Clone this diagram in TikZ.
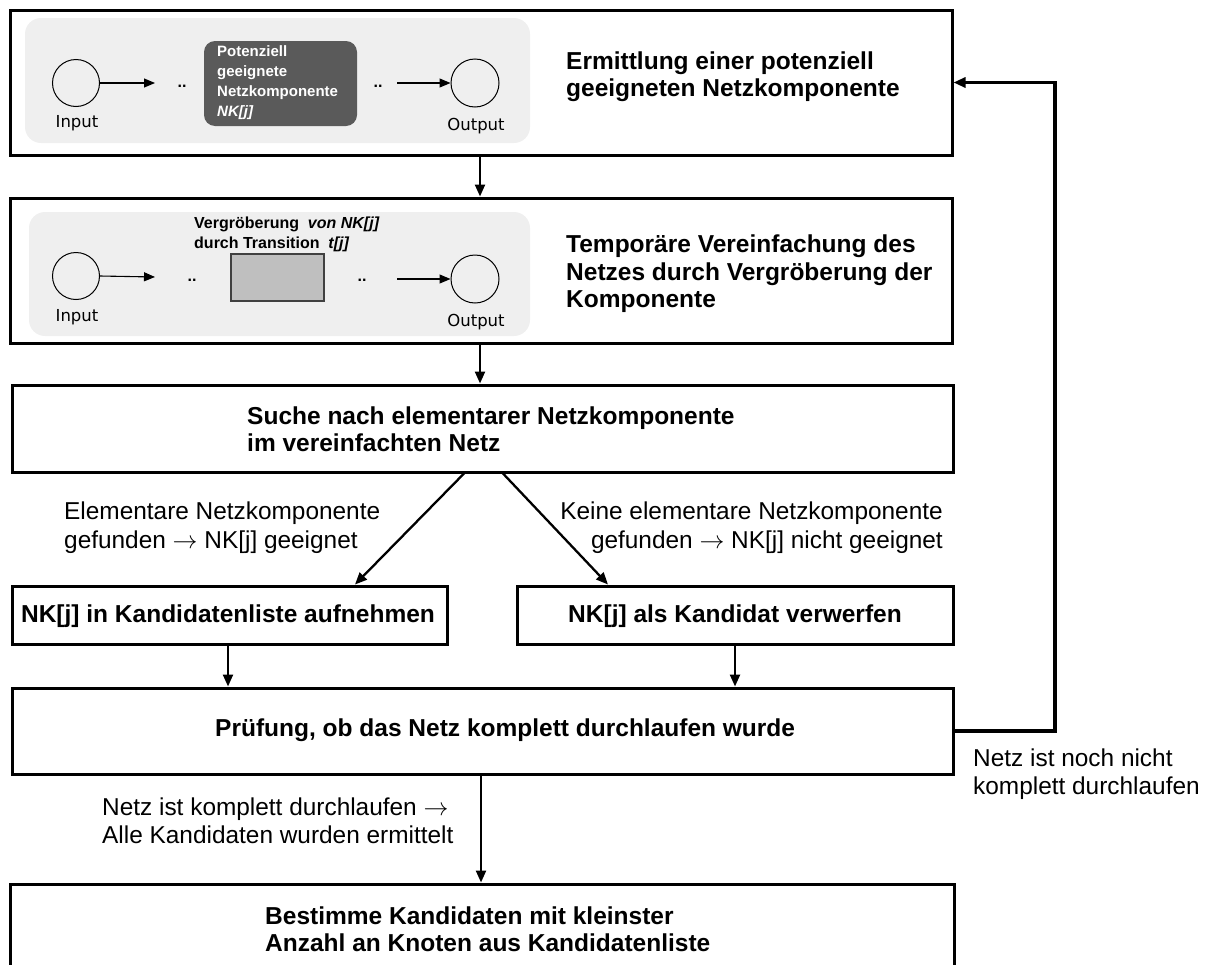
\documentclass[tikz,border=0pt]{standalone}
\usepackage{fontspec}
\setmainfont{Liberation Sans}
\newfontfamily\djv{DejaVu Sans}
\usetikzlibrary{arrows.meta}
\definecolor{panelgray}{HTML}{EFEFEF}
\definecolor{darkbox}{HTML}{5A5A5A}
\definecolor{transgray}{HTML}{BFBFBF}
\begin{document}
\begin{tikzpicture}[x=1pt,y=-1pt,
  stepbox/.style={draw=black,line width=3pt,inner sep=0pt},
  bigtxt/.style={inner sep=0pt,align=left,font=\fontsize{24.5}{27.5}\selectfont\bfseries},
  lbltxt/.style={inner sep=0pt,font=\fontsize{24.4}{28.5}\selectfont},
  arr/.style={line width=2.3pt,-{Triangle[length=12pt,width=10pt]}},
  fbarr/.style={line width=3.5pt,-{Triangle[length=12pt,width=10pt]}},
  sarr/.style={line width=1.1pt,-{Triangle[length=11pt,width=9pt]}},
  panel/.style={fill=panelgray,rounded corners=16pt},
  place/.style={circle,draw=black,line width=1pt,minimum size=47pt,inner sep=0pt},
  iolbl/.style={inner sep=0pt,font=\djv\fontsize{16.5}{19}\selectfont},
  dots/.style={inner sep=0pt,anchor=base,font=\fontsize{16}{19}\selectfont\bfseries},
]
\useasboundingbox (0,0) rectangle (1207,964);

% ---------- step 1: choose a candidate component ----------
\node[stepbox,minimum width=942pt,minimum height=145pt] (b1) at (481,82.5) {};
\fill[panel] (25,18) rectangle (530,143);
\node[place] (in1) at (76,83) {};
\node[place,minimum size=48pt] (out1) at (475,83) {};
\node[iolbl] (in1l) at (77,123) {Input};
\node[iolbl] (out1l) at (476,126) {Output};
\coordinate (a1e) at (155,83);
\coordinate (a1s) at (397,83);
\draw[sarr] (in1.east) -- (a1e);
\draw[sarr] (a1s) -- (out1.west);
\node[dots] (d11) at (182,87) {..};
\node[dots] (d12) at (378,87) {..};
\node[fill=darkbox,rounded corners=11pt,minimum width=153pt,minimum height=85pt,inner sep=0pt] (nk) at (280.5,83.5) {};
\node[inner sep=0pt,anchor=west,align=left,text=white,font=\fontsize{15}{20}\selectfont\bfseries] (nkt) at (217,83)
  {Potenziell\\geeignete\\Netzkomponente\\\textit{NK[j]}};
\node[bigtxt,anchor=west] (t1) at (566,76.5) {Ermittlung einer potenziell\\geeigneten Netzkomponente};

% ---------- step 2: coarsen the component ----------
\node[stepbox,minimum width=942pt,minimum height=145pt] (b2) at (481,270.5) {};
\fill[panel] (29,212) rectangle (530,336);
\node[place] (in2) at (76,276) {};
\node[place,minimum size=48pt] (out2) at (475,279) {};
\node[iolbl] (in2l) at (77,317) {Input};
\node[iolbl] (out2l) at (476,322) {Output};
\coordinate (a2e) at (155,277);
\coordinate (a2s) at (397,279);
\draw[sarr] (in2.east) -- (a2e);
\draw[sarr] (a2s) -- (out2.west);
\node[dots] (d21) at (192,281) {..};
\node[dots] (d22) at (362,281) {..};
\node[fill=transgray,draw=black!75,line width=1.2pt,minimum width=93pt,minimum height=47pt,inner sep=0pt] (tj) at (277.5,277.5) {};
\node[inner sep=0pt,anchor=west,align=left,font=\fontsize{16}{20}\selectfont\bfseries] (tjt) at (194,234)
  {Vergröberung \ \textit{von NK[j]}\\durch Transition \ \textit{t[j]}};
\node[bigtxt,anchor=west] (t2) at (566,274) {Temporäre Vereinfachung des\\Netzes durch Vergröberung der\\Komponente};

% ---------- step 3: search in the simplified net ----------
\node[stepbox,minimum width=941pt,minimum height=87pt] (b3) at (482.5,428.5) {};
\node[bigtxt,anchor=west] (t3) at (247,429) {Suche nach elementarer Netzkomponente\\im vereinfachten Netz};

% ---------- decision outcomes ----------
\node[stepbox,minimum width=435pt,minimum height=58pt] (b4) at (229.5,615) {};
\node[bigtxt] (t4) at (228,616) {NK[j] in Kandidatenliste aufnehmen};
\node[stepbox,minimum width=436pt,minimum height=58pt] (b5) at (735,615) {};
\node[bigtxt] (t5) at (735,616) {NK[j] als Kandidat verwerfen};

\node[lbltxt,anchor=west,align=left] (l4) at (64,527.5) {Elementare Netzkomponente\\gefunden $\rightarrow$ NK[j] geeignet};
\node[lbltxt,anchor=east,align=right] (l5) at (943,527.5) {Keine elementare Netzkomponente\\gefunden $\rightarrow$ NK[j] nicht geeignet};

% ---------- completeness check ----------
\node[stepbox,minimum width=941pt,minimum height=86pt] (b6) at (482.5,731) {};
\node[bigtxt,anchor=west] (t6) at (215,730) {Prüfung, ob das Netz komplett durchlaufen wurde};
\node[lbltxt,anchor=west,align=left] (l6) at (102,821) {Netz ist komplett durchlaufen $\rightarrow$\\Alle Kandidaten wurden ermittelt};
\node[lbltxt,anchor=west,align=left] (lfb) at (973,774) {Netz ist noch nicht\\komplett durchlaufen};

% ---------- final step ----------
\node[stepbox,minimum width=944pt,minimum height=110pt] (b7) at (482,939) {};
\node[bigtxt,anchor=west] (t7) at (265,929) {Bestimme Kandidaten mit kleinster\\Anzahl an Knoten aus Kandidatenliste};

% ---------- connectors ----------
\draw[arr] ([xshift=-1pt]b1.south) -- ([xshift=-1pt]b2.north);
\draw[arr] ([xshift=-1pt]b2.south) -- ([xshift=-1pt]b2.south |- b3.north);
\draw[arr] ([xshift=-18.5pt]b3.south) -- ([xshift=125.5pt]b4.north);
\draw[arr] ([xshift=20.5pt]b3.south) -- ([xshift=-127pt]b5.north);
\draw[arr] ([xshift=-1.5pt]b4.south) -- ([xshift=-1.5pt]b4.south |- b6.north);
\draw[arr] (b5.south) -- (b5.south |- b6.north);
\draw[arr] ([xshift=-1.5pt]b6.south) -- ([xshift=-1.5pt]b6.south |- b7.north);
\coordinate (fbc) at (1055,731);
\draw[fbarr] (b6.east) -- (fbc) |- (b1.east);
\end{tikzpicture}
\end{document}
